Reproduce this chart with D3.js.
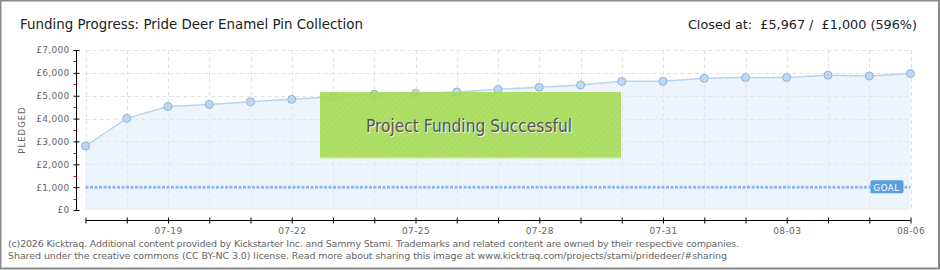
<!DOCTYPE html>
<html>
<head>
<meta charset="utf-8">
<script src="https://cdn.jsdelivr.net/npm/d3@7"></script>
<style>
  body { margin: 0; background: #fff; }
  svg { display: block; }
  .tick text { font-family: "DejaVu Sans", sans-serif; fill: #666; }
</style>
</head>
<body>
<div id="chart"></div>
<script>
// pledged per day (GBP)
var days = ["07-17","07-18","07-19","07-20","07-21","07-22","07-23","07-24","07-25","07-26","07-27",
            "07-28","07-29","07-30","07-31","08-01","08-02","08-03","08-04","08-05","08-06"];
var pledged = [2800, 4010, 4530, 4620, 4740, 4840, 4960, 5060, 5100, 5160, 5280,
               5370, 5470, 5630, 5630, 5760, 5800, 5800, 5900, 5860, 5967];
var goal = 1000;
var yTicks = [0, 1000, 2000, 3000, 4000, 5000, 6000, 7000];
var labelDays = ["07-19","07-22","07-25","07-28","07-31","08-03","08-06"];

var W = 940, H = 270;
var svg = d3.select("#chart").append("svg").attr("width", W).attr("height", H);

// frame
svg.append("rect").attr("x", 0.5).attr("y", 0.5).attr("width", W - 1.5).attr("height", H - 2)
    .attr("fill", "#fff").attr("stroke", "#8a8a8a").attr("stroke-width", 2);

var x = d3.scalePoint().domain(days).range([85.5, 910.5]);
var y = d3.scaleLinear().domain([0, 7000]).range([210, 50]);
var fmt = function (v) { return "£" + d3.format(",")(v); };

// titles
svg.append("text").attr("x", 20).attr("y", 29)
    .style("font-family", "'DejaVu Sans', sans-serif").style("font-size", "14.5px").attr("fill", "#222")
    .attr("textLength", 343).attr("lengthAdjust", "spacingAndGlyphs")
    .text("Funding Progress: Pride Deer Enamel Pin Collection");
svg.append("text").attr("x", 917).attr("y", 29).attr("text-anchor", "end")
    .style("font-family", "'DejaVu Sans', sans-serif").style("font-size", "12.8px").attr("fill", "#222")
    .style("white-space", "pre")
    .text("Closed at:  " + fmt(5967) + " /  " + fmt(goal) + " (596%)");

// grid
var grid = svg.append("g");
grid.selectAll(".hg").data(yTicks.slice(1)).enter().append("line")
    .attr("x1", x(days[0])).attr("x2", x(days[days.length - 1]))
    .attr("y1", function (d) { return Math.round(y(d)) + 0.5; })
    .attr("y2", function (d) { return Math.round(y(d)) + 0.5; })
    .attr("stroke", "#e2e2e2").attr("stroke-dasharray", "4,3");
grid.selectAll(".vg").data(days).enter().append("line")
    .attr("x1", function (d) { return Math.round(x(d)) + 0.5; })
    .attr("x2", function (d) { return Math.round(x(d)) + 0.5; })
    .attr("y1", y(7000)).attr("y2", y(0))
    .attr("stroke", "#e2e2e2").attr("stroke-dasharray", "4,3");

// area + line
var area = d3.area().x(function (d, i) { return x(days[i]); })
    .y0(y(0)).y1(function (d) { return y(d); });
svg.append("path").datum(pledged).attr("d", area)
    .attr("fill", "#dbe9f9").attr("fill-opacity", 0.5);
var line = d3.line().x(function (d, i) { return x(days[i]); }).y(function (d) { return y(d); });
svg.append("path").datum(pledged).attr("d", line)
    .attr("fill", "none").attr("stroke", "#b8d4f0").attr("stroke-width", 1.5);

// goal line
svg.append("line").attr("x1", x(days[0])).attr("x2", x(days[days.length - 1]))
    .attr("y1", y(goal)).attr("y2", y(goal))
    .attr("stroke", "#8fbbe8").attr("stroke-width", 3).attr("stroke-dasharray", "3,1.5");

// points
svg.selectAll(".pt").data(pledged).enter().append("circle")
    .attr("cx", function (d, i) { return x(days[i]); })
    .attr("cy", function (d) { return y(d); })
    .attr("r", 4).attr("fill", "#bcd8f5").attr("stroke", "#93b3d3").attr("stroke-width", 1);

// goal tag
var gx = x(days[days.length - 1]) - 40, gy = y(goal);
svg.append("rect").attr("x", gx).attr("y", gy - 7).attr("width", 33).attr("height", 13)
    .attr("rx", 1.5).attr("fill", "#5b9fe0");
svg.append("text").attr("x", gx + 3).attr("y", gy + 3.5)
    .style("font-family", "'DejaVu Sans', sans-serif").style("font-size", "8.5px")
    .attr("fill", "#fff").attr("letter-spacing", 0.6).text("GOAL");

// success banner (a bit see-through, points show behind it)
var pat = svg.append("defs").append("pattern").attr("id", "hatch")
    .attr("width", 4).attr("height", 4).attr("patternUnits", "userSpaceOnUse")
    .attr("patternTransform", "rotate(45)");
pat.append("rect").attr("width", 4).attr("height", 4).attr("fill", "#a6dc52");
pat.append("line").attr("x1", 0).attr("y1", 0).attr("x2", 0).attr("y2", 4)
    .attr("stroke", "#9fd24c").attr("stroke-width", 1.5);
svg.append("rect").attr("x", 320).attr("y", 92).attr("width", 301).attr("height", 66)
    .attr("fill", "url(#hatch)").attr("opacity", 0.88);
svg.append("rect").attr("x", 320).attr("y", 157).attr("width", 301).attr("height", 1.5)
    .attr("fill", "#c8e59a");
var bt = { x: 366, y: 132, s: "Project Funding Successful" };
[["#f2f2f2", 1, 1], ["#555", 0, 0]].forEach(function (c) {
    svg.append("text").attr("x", bt.x + c[1]).attr("y", bt.y + c[2])
        .style("font-family", "'DejaVu Sans', sans-serif")
        .style("font-size", "18px").attr("fill", c[0])
        .attr("textLength", 206).attr("lengthAdjust", "spacingAndGlyphs").text(bt.s);
});

// y axis
var yAxis = d3.axisLeft(y).tickValues(yTicks).tickFormat(fmt).tickSize(3).tickPadding(4);
var ya = svg.append("g").attr("transform", "translate(76.5,0)").call(yAxis);
ya.select(".domain").attr("stroke", "#000").attr("d", "M0," + y(7000) + "V" + y(0));
ya.selectAll(".tick line").attr("stroke", "#000").attr("x1", 3);
ya.selectAll(".tick text").style("font-size", "9px").attr("letter-spacing", 0.3).attr("x", -7);
ya.selectAll(".minor").data(d3.range(500, 7000, 1000)).enter().append("line").attr("class", "minor")
    .attr("x1", -3).attr("x2", 0)
    .attr("y1", function (d) { return Math.round(y(d)) + 0.5; })
    .attr("y2", function (d) { return Math.round(y(d)) + 0.5; })
    .attr("stroke", "#e00000");
svg.append("text").attr("transform", "translate(25,130) rotate(-90)").attr("text-anchor", "middle")
    .style("font-family", "'DejaVu Sans', sans-serif").style("font-size", "8.5px")
    .attr("letter-spacing", 1).attr("fill", "#666").text("PLEDGED");

// x axis
var xAxis = d3.axisBottom(x).tickSizeInner(0).tickSizeOuter(0).tickPadding(7)
    .tickFormat(function (d) { return labelDays.indexOf(d) >= 0 ? d : ""; });
var xa = svg.append("g").attr("transform", "translate(0,220.5)").call(xAxis);
xa.select(".domain").attr("stroke", "#000").attr("d", "M" + x(days[0]) + ",0H" + x(days[days.length - 1]));
xa.selectAll(".tick line").attr("stroke", "#000").attr("y1", -3).attr("y2", 3);
xa.selectAll(".tick text").style("font-size", "9px").attr("letter-spacing", 0.4);

// footer
var foot = ["(c)2026 Kicktraq. Additional content provided by Kickstarter Inc. and Sammy Stami. Trademarks and related content are owned by their respective companies.",
            "Shared under the creative commons (CC BY-NC 3.0) license. Read more about sharing this image at www.kicktraq.com/projects/stami/pridedeer/#sharing"];
var footLen = [731, 719];
svg.selectAll(".foot").data(foot).enter().append("text")
    .attr("x", 8).attr("y", function (d, i) { return 247 + i * 12; })
    .style("font-family", "'DejaVu Sans', sans-serif").style("font-size", "9.5px")
    .attr("textLength", function (d, i) { return footLen[i]; })
    .attr("fill", "#666").text(function (d) { return d; });
</script>
</body>
</html>
